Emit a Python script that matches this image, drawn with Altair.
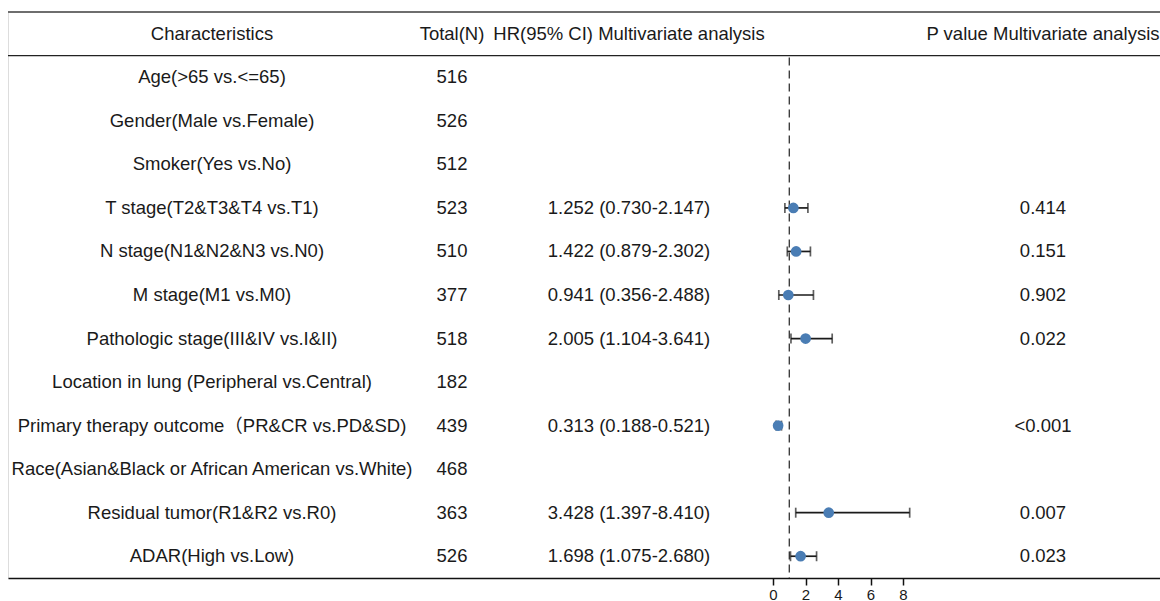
import altair as alt
import pandas as pd

labels = [
    "Age(>65 vs.<=65)",
    "Gender(Male vs.Female)",
    "Smoker(Yes vs.No)",
    "T stage(T2&T3&T4 vs.T1)",
    "N stage(N1&N2&N3 vs.N0)",
    "M stage(M1 vs.M0)",
    "Pathologic stage(III&IV vs.I&II)",
    "Location in lung (Peripheral vs.Central)",
    "Primary therapy outcome\uff08PR&CR vs.PD&SD)",
    "Race(Asian&Black or African American vs.White)",
    "Residual tumor(R1&R2 vs.R0)",
    "ADAR(High vs.Low)",
]
totals = ["516", "526", "512", "523", "510", "377", "518", "182", "439", "468", "363", "526"]
hr = [None, None, None, 1.252, 1.422, 0.941, 2.005, None, 0.313, None, 3.428, 1.698]
lo = [None, None, None, 0.730, 0.879, 0.356, 1.104, None, 0.188, None, 1.397, 1.075]
hi = [None, None, None, 2.147, 2.302, 2.488, 3.641, None, 0.521, None, 8.410, 2.680]
pvals = ["", "", "", "0.414", "0.151", "0.902", "0.022", "", "<0.001", "", "0.007", "0.023"]
headers = ["Characteristics", "Total(N)", "HR(95% CI) Multivariate analysis", "P value Multivariate analysis"]
tick_vals = [0, 2, 4, 6, 8]

keys = ["r00"] + [f"r{i+1:02d}" for i in range(len(labels))]

def fmt(h, l, u):
    if h is None:
        return ""
    return f"{h:.3f} ({l:.3f}-{u:.3f})"

df = pd.DataFrame({
    "key": keys[1:],
    "label": labels,
    "total": totals,
    "hr": hr,
    "lo": lo,
    "hi": hi,
    "hrtext": [fmt(h, l, u) for h, l, u in zip(hr, lo, hi)],
    "p": pvals,
})
dfe = df.dropna(subset=["hr"])
hdr = pd.DataFrame({"key": ["r00"] * 4, "text": headers, "col": [0, 1, 2, 3]})

W, H = 1152, 566
STEP = H / len(keys)
FONT = "Liberation Sans, Arial, Noto Sans CJK SC"
FS = 18.5
TXT = "#1a1a1a"

yenc = alt.Y("key:N", scale=alt.Scale(domain=keys, type="band", paddingInner=0, paddingOuter=0), axis=None)
xscale = alt.Scale(domain=[-47.08, 23.815], nice=False, zero=False)

base = alt.Chart(df)

def txt(field, xpos):
    return base.mark_text(font=FONT, fontSize=FS, color=TXT, align="center", baseline="middle").encode(
        x=alt.value(xpos), y=yenc, text=f"{field}:N")

col_x = [204, 444, 621, 1035]

layers = [
    txt("label", col_x[0]),
    txt("total", col_x[1]),
    txt("hrtext", col_x[2]),
    txt("p", col_x[3]),
]
for i, h in enumerate(headers):
    layers.append(
        alt.Chart(hdr[hdr.col == i]).mark_text(font=FONT, fontSize=FS, color=TXT, align="center", baseline="middle").encode(
            x=alt.value(col_x[i]), y=yenc, text="text:N")
    )

top_rule = alt.Chart(hdr.head(1)).mark_rule(color="#6e6e6e", strokeWidth=2).encode(
    x=alt.value(0), x2=alt.value(W), y=alt.value(0))
hdr_rule = alt.Chart(hdr.head(1)).mark_rule(color="#222", strokeWidth=1.3).encode(
    x=alt.value(0), x2=alt.value(W), y=alt.value(STEP))
ref = alt.Chart(hdr.head(1)).mark_rule(color="#222", strokeWidth=1.2, strokeDash=[8, 5]).encode(
    x=alt.datum(1, scale=xscale,
                axis=alt.Axis(values=tick_vals, title=None, labelFont=FONT, labelFontSize=15, labelColor=TXT,
                              tickSize=7, tickColor="#111", tickWidth=1.5, domainColor="#111", domainWidth=1.3,
                              grid=False, labelPadding=2, labelFlush=False)),
    y=alt.value(STEP + 2), y2=alt.value(H))

eb = alt.Chart(dfe).mark_rule(color="#1a1a1a", strokeWidth=1.7).encode(
    x=alt.X("lo:Q"), x2="hi:Q", y=yenc)
cap_lo = alt.Chart(dfe).mark_tick(color="#1a1a1a", thickness=1.7, size=10, orient="vertical").encode(
    x="lo:Q", y=yenc)
cap_hi = alt.Chart(dfe).mark_tick(color="#1a1a1a", thickness=1.7, size=10, orient="vertical").encode(
    x="hi:Q", y=yenc)
pts = alt.Chart(dfe).mark_circle(color="#4a7db4", opacity=1, size=115).encode(
    x="hr:Q", y=yenc)

chart = alt.layer(ref, top_rule, hdr_rule, eb, cap_lo, cap_hi, pts, *layers).properties(
    width=W, height=H,
    autosize=alt.AutoSizeParams(type="none"),
    padding={"left": 8, "top": 12, "right": 0, "bottom": 23},
).configure_view(strokeWidth=0).configure(background="white")

chart.save("out.html", embed_options={"renderer": "svg", "actions": False})
